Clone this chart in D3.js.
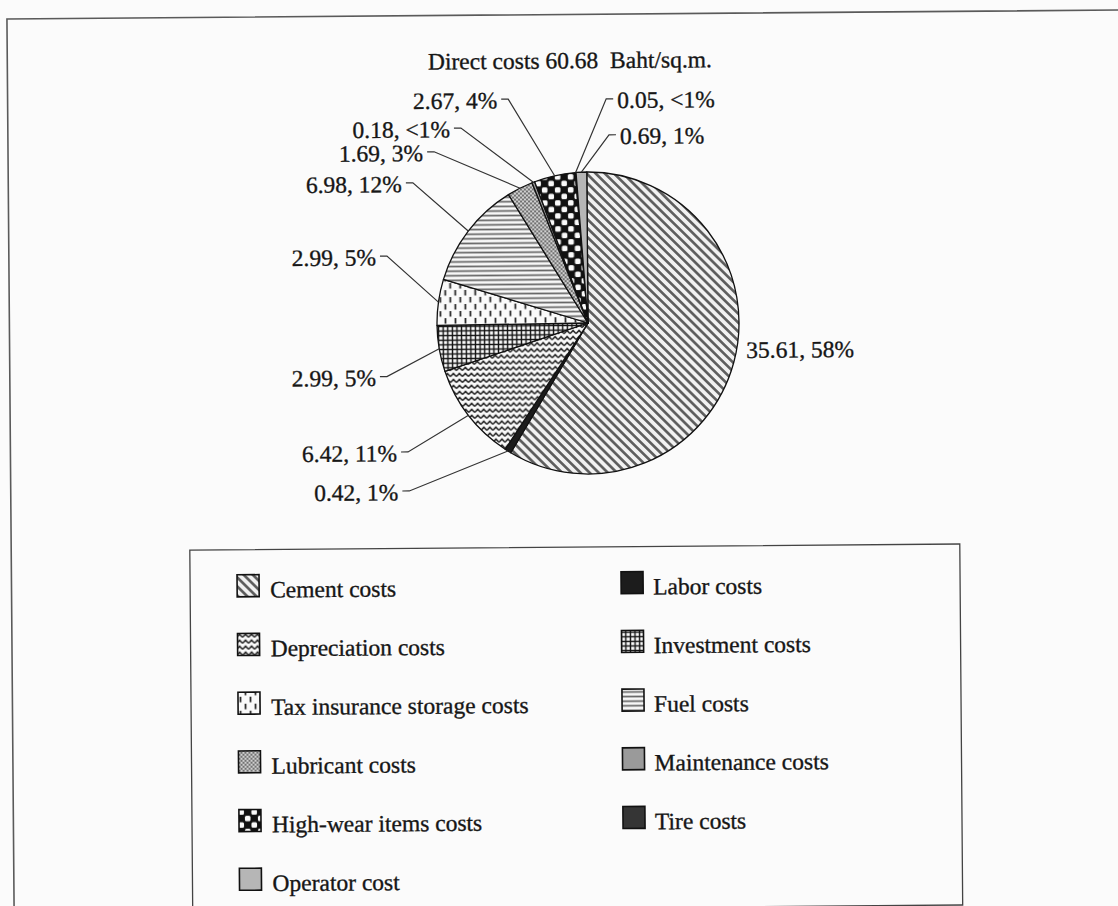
<!DOCTYPE html>
<html><head><meta charset="utf-8">
<script src="https://cdn.jsdelivr.net/npm/d3@7"></script>
<style>
html,body{margin:0;padding:0;background:#fbfbfb;}
svg{display:block;}
text{font-family:"Liberation Serif","Times New Roman",serif;fill:#161616;stroke:#161616;stroke-width:0.35px;}
</style></head><body>
<svg id="chart" width="1118" height="906"></svg>
<script>
// ---------- data ----------
const categories = ["Cement costs","Labor costs","Depreciation costs","Investment costs",
  "Tax insurance storage costs","Fuel costs","Lubricant costs","Maintenance costs",
  "High-wear items costs","Tire costs","Operator cost"];
const values = [35.61, 0.42, 6.42, 2.99, 2.99, 6.98, 1.69, 0.18, 2.67, 0.05, 0.69];
const percentLabels = ["58%","1%","11%","5%","5%","12%","3%","<1%","4%","<1%","1%"];
const totalValue = "60.68";
const titleText = "Direct costs " + totalValue + "  Baht/sq.m.";

// ---------- layout (positions only) ----------
const W = 1118, H = 906;
const cx = 588, cy = 323, R = 151;
const fontSize = 23.5;
// label anchor points [x, y, text-anchor]
const labelLayout = [
  [746, 351, "start"],
  [397, 490.5, "end"],
  [396, 451.5, "end"],
  [375.5, 376, "end"],
  [376.5, 255.5, "end"],
  [403, 182.5, "end"],
  [424.5, 151.5, "end"],
  [451.5, 128, "end"],
  [499, 99.5, "end"],
  [619, 100, "start"],
  [621.5, 136, "start"]
];
const hasLeader = [false, true, true, true, true, true, true, true, true, true, true];

const svg = d3.select("#chart");
const defs = svg.append("defs");

function pat(id, w, h, bg, draw, transform) {
  const p = defs.append("pattern").attr("id", id)
    .attr("patternUnits", "userSpaceOnUse").attr("width", w).attr("height", h);
  if (transform) p.attr("patternTransform", transform);
  p.append("rect").attr("width", w).attr("height", h).attr("fill", bg);
  if (draw) draw(p);
}
// 0 cement: diagonal "\" hatch
pat("p0", 6.4, 6.4, "#f1f1f1", p => p.append("line").attr("x1", 3.2).attr("x2", 3.2).attr("y1", 0).attr("y2", 6.4)
  .attr("stroke", "#5a5a5a").attr("stroke-width", 2.6), "rotate(-45)");
// 1 labor solid
pat("p1", 4, 4, "#1c1c1c");
// 2 depreciation zigzag
pat("p2", 6, 6, "#fafafa", p => p.append("path").attr("d", "M0,4.6 L3,1.4 L6,4.6").attr("fill", "none")
  .attr("stroke", "#1e1e1e").attr("stroke-width", 1.5));
// 3 investment grid
pat("p3", 4.6, 4.6, "#fafafa", p => p.append("path").attr("d", "M0,2.3H4.6M2.3,0V4.6").attr("fill", "none")
  .attr("stroke", "#111").attr("stroke-width", 1.4));
// 4 tax: staggered vertical dashes
pat("p4", 10, 14, "#fafafa", p => p.append("path").attr("d", "M2.5,1V6.5M7.5,8V13.5").attr("fill", "none")
  .attr("stroke", "#2a2a2a").attr("stroke-width", 1.8));
// 5 fuel: horizontal lines
pat("p5", 10, 4.6, "#f7f7f7", p => p.append("line").attr("x1", 0).attr("x2", 10).attr("y1", 2.3).attr("y2", 2.3)
  .attr("stroke", "#666").attr("stroke-width", 1.7));
// 6 lubricant: fine crosshatch
pat("p6", 4, 4, "#d0d0d0", p => p.append("path").attr("d", "M0,0L4,4M4,0L0,4").attr("fill", "none")
  .attr("stroke", "#666").attr("stroke-width", 0.9));
// 7 maintenance solid grey
pat("p7", 4, 4, "#9a9a9a");
// 8 high-wear: checker with rounded white cells
pat("p8", 13, 13, "#111", p => {
  p.append("rect").attr("x", 0.45).attr("y", 0.45).attr("width", 5.6).attr("height", 5.6).attr("rx", 1.5).attr("fill", "#fafafa");
  p.append("rect").attr("x", 6.95).attr("y", 6.95).attr("width", 5.6).attr("height", 5.6).attr("rx", 1.5).attr("fill", "#fafafa");
});
// 9 tire dark
pat("p9", 4, 4, "#353535");
// 10 operator light grey
pat("p10", 4, 4, "#b6b6b6");

const root = svg.append("g").attr("transform", `rotate(-0.46, ${cx}, ${cy})`);

// outer frame
root.append("rect").attr("x", 9.4).attr("y", 14.3).attr("width", 1300).attr("height", 1100)
  .attr("fill", "none").attr("stroke", "#5a5a5a").attr("stroke-width", 1.6);

// title
root.append("text").attr("x", 572).attr("y", 60).attr("dy", "0.35em")
  .attr("text-anchor", "middle").style("white-space", "pre")
  .style("font-size", fontSize + "px").text(titleText);

// pie
const pie = d3.pie().sort(null).value(d => d)(values);
const arc = d3.arc().innerRadius(0).outerRadius(R);
const gPie = root.append("g").attr("transform", `translate(${cx},${cy})`);
gPie.selectAll("path").data(pie).join("path")
  .attr("d", arc)
  .attr("fill", (d, i) => `url(#p${i})`)
  .attr("stroke", "#111").attr("stroke-width", 1.3).attr("stroke-linejoin", "round");

// labels + leaders
const gLab = root.append("g");
pie.forEach((d, i) => {
  const [lx, ly, anchor] = labelLayout[i];
  gLab.append("text").attr("x", lx).attr("y", ly).attr("dy", "0.35em")
    .attr("text-anchor", anchor).style("font-size", fontSize + "px")
    .text(d3.format(".2f")(values[i]) + ", " + percentLabels[i]);
  if (hasLeader[i]) {
    const a = (d.startAngle + d.endAngle) / 2;
    const px = cx + R * Math.sin(a), py = cy - R * Math.cos(a);
    const dir = anchor === "end" ? 1 : -1;
    const x0 = lx + dir * 4, x1 = lx + dir * 11;
    gLab.append("path")
      .attr("d", `M${x0},${ly - 1}L${x1},${ly - 1}L${px},${py}`)
      .attr("fill", "none").attr("stroke", "#333").attr("stroke-width", 1.2);
  }
});

// legend
const gLeg = root.append("g");
gLeg.append("rect").attr("x", 188).attr("y", 547).attr("width", 770).attr("height", 361)
  .attr("fill", "none").attr("stroke", "#444").attr("stroke-width", 1.3);
const rowStep = 58.7, baseY = 595;
categories.forEach((c, i) => {
  const col = i % 2, row = Math.floor(i / 2);
  const sx = col ? 619 : 235, tx = col ? 651 : 268;
  const by = baseY + row * rowStep;
  gLeg.append("rect").attr("x", sx).attr("y", by - 23).attr("width", 22).attr("height", 22)
    .attr("fill", `url(#p${i})`).attr("stroke", "#111").attr("stroke-width", 1.6);
  gLeg.append("text").attr("x", tx).attr("y", by).style("font-size", fontSize + "px").text(c);
});
</script>
</body></html>
